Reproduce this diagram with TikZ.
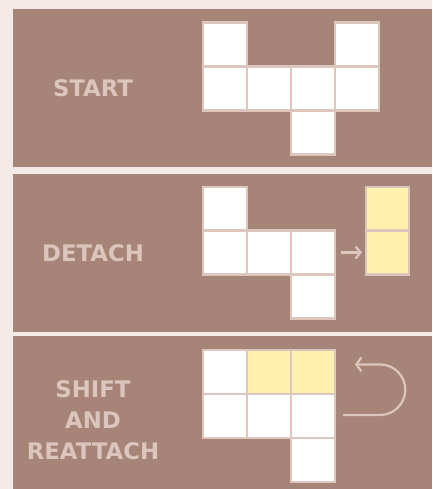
\documentclass[tikz,border=0pt]{standalone}
\usepackage{fontspec}
\setmainfont{DejaVu Sans}
\usetikzlibrary{arrows.meta}
\definecolor{bg}{HTML}{F4EAE8}
\definecolor{panel}{HTML}{A68477}
\definecolor{cellline}{HTML}{DCC6BE}
\definecolor{hl}{HTML}{FFF1AD}
\definecolor{txt}{HTML}{DCC5BC}
\tikzset{
  panelbox/.style={fill=panel},
  cell/.style={draw=cellline, line width=2.2pt, fill=white, minimum size=44pt, inner sep=0pt, outer sep=0pt},
  hcell/.style={cell, fill=hl},
  label/.style={text=txt, font=\bfseries\fontsize{22.8}{31}\selectfont, align=center},
  conn/.style={draw=cellline, line width=2.2pt},
}
\begin{document}
\begin{tikzpicture}[x=1pt,y=-1pt]
\fill[bg] (0,0) rectangle (432,489);
\useasboundingbox (0,0) rectangle (432,489);
% panels
\fill[panelbox] (13,9) rectangle (432,167);
\fill[panelbox] (13,174) rectangle (432,332);
\fill[panelbox] (13,336) rectangle (432,489);
% panel 1
\node[label] (t1) at (93,88) {START};
\node[cell] (a11) at (224.6,44.5) {};
\node[cell] (a14) at (357.2,44.5) {};
\node[cell] (a21) at (224.6,88.5) {};
\node[cell] (a22) at (268.8,88.5) {};
\node[cell] (a23) at (313,88.5) {};
\node[cell] (a24) at (357.2,88.5) {};
\node[cell] (a33) at (313,132.5) {};
% panel 2
\node[label] (t2) at (93,253) {DETACH};
\node[cell] (b11) at (224.6,208.7) {};
\node[cell] (b21) at (224.6,252.5) {};
\node[cell] (b22) at (268.8,252.5) {};
\node[cell] (b23) at (313,252.5) {};
\node[cell] (b33) at (313,296.5) {};
\node[hcell, minimum width=43pt] (y1) at (387.5,208.7) {};
\node[hcell, minimum width=43pt] (y2) at (387.5,252.5) {};
\draw[conn, -{Straight Barb[length=5pt,width=12pt]}, shorten <=6pt, shorten >=4pt] (b23.east) -- (y2.west);
% panel 3
\node[label] (t3) at (93,420) {SHIFT\\AND\\REATTACH};
\node[cell] (c11) at (224.6,372) {};
\node[hcell] (c12) at (268.8,372) {};
\node[hcell] (c13) at (313,372) {};
\node[cell] (c21) at (224.6,416) {};
\node[cell] (c22) at (268.8,416) {};
\node[cell] (c23) at (313,416) {};
\node[cell] (c33) at (313,460) {};
\coordinate (ret) at (355,364.4);
\draw[conn, -{Straight Barb[length=5pt,width=14pt]}] ([xshift=8pt]c23.east |- 0,415) -- (380,415) arc[start angle=90, end angle=-90, radius=25.3] -- (ret);
\end{tikzpicture}
\end{document}
